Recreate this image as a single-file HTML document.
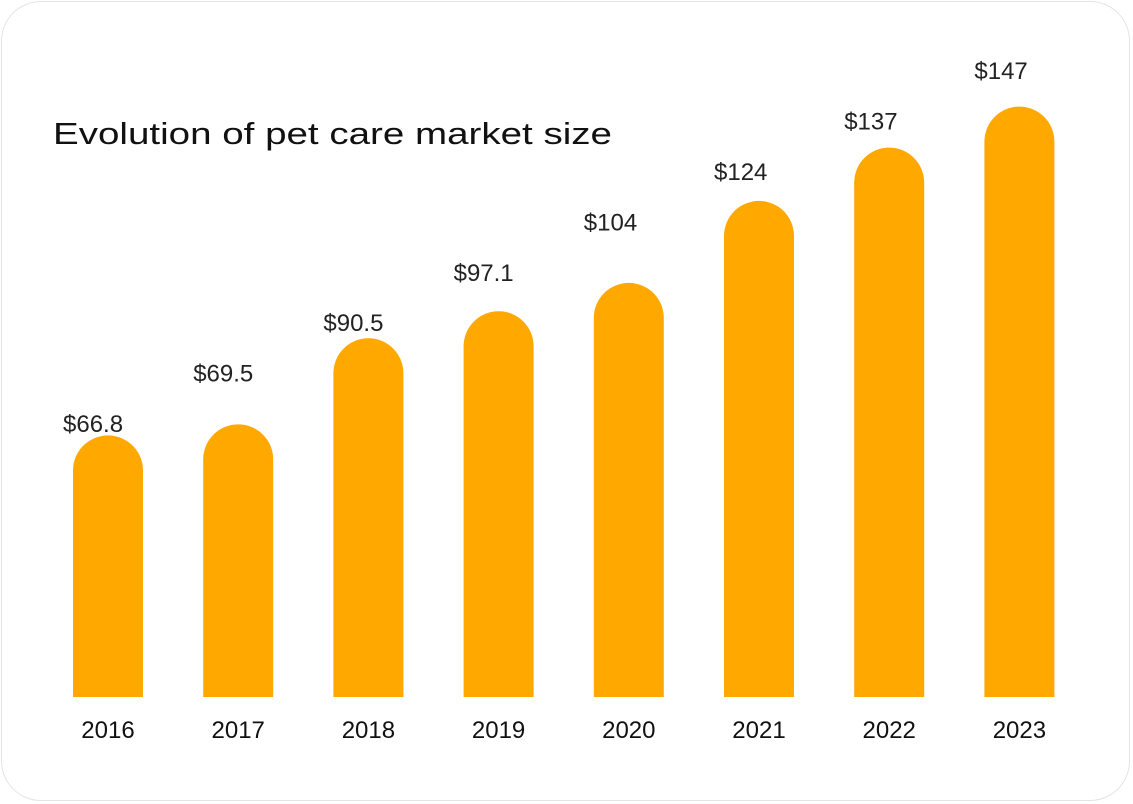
<!DOCTYPE html>
<html><head><meta charset="utf-8"><style>
html,body{margin:0;padding:0;background:#fff;}
body{width:1133px;height:804px;overflow:hidden;font-family:"Liberation Sans",sans-serif;}
#card{position:absolute;left:1px;top:1px;width:1129px;height:800px;border:1px solid #e4e4e4;border-radius:40px;box-sizing:border-box;background:#fff;}
svg{position:absolute;left:0;top:0;}
</style></head><body>
<div id="card"></div>
<svg id="chart" width="1133" height="804">
<text x="53" y="144" font-size="31" fill="#111" textLength="559" lengthAdjust="spacingAndGlyphs">Evolution of pet care market size</text>
</svg>
<script>
const years = ["2016","2017","2018","2019","2020","2021","2022","2023"];
const values = [66.8,69.5,90.5,97.1,104,124,137,147];
const valueLabels = ["$66.8","$69.5","$90.5","$97.1","$104","$124","$137","$147"];
const svg = document.getElementById('chart');
const NS = 'http://www.w3.org/2000/svg';
const baseY = 697, v0 = 3, k = 4.1;
function y(v){ return baseY - (v - v0) * k; }
function xc(i){ return 108 + i * 130.2; }
const bw = 70, r = 35;
values.forEach((v,i)=>{
  const top = y(v), cx = xc(i), l = cx - bw/2;
  const p = document.createElementNS(NS,'path');
  p.setAttribute('d',`M${l},${baseY} L${l},${top+r} A${r},${r} 0 0 1 ${l+bw},${top+r} L${l+bw},${baseY} Z`);
  p.setAttribute('fill','#FFA800');
  
  
  svg.appendChild(p);
  const t = document.createElementNS(NS,'text');
  t.setAttribute('x',l-10); t.setAttribute('y',432 - 50.4*i);
  t.setAttribute('font-size','24'); t.setAttribute('fill','#222');
  t.textContent = valueLabels[i];
  
  
  svg.appendChild(t);
  const yl = document.createElementNS(NS,'text');
  yl.setAttribute('x',cx); yl.setAttribute('y',738);
  yl.setAttribute('text-anchor','middle'); yl.setAttribute('font-size','24'); yl.setAttribute('fill','#111');
  yl.textContent = years[i];
  
  
  svg.appendChild(yl);
});
</script>
</body></html>
